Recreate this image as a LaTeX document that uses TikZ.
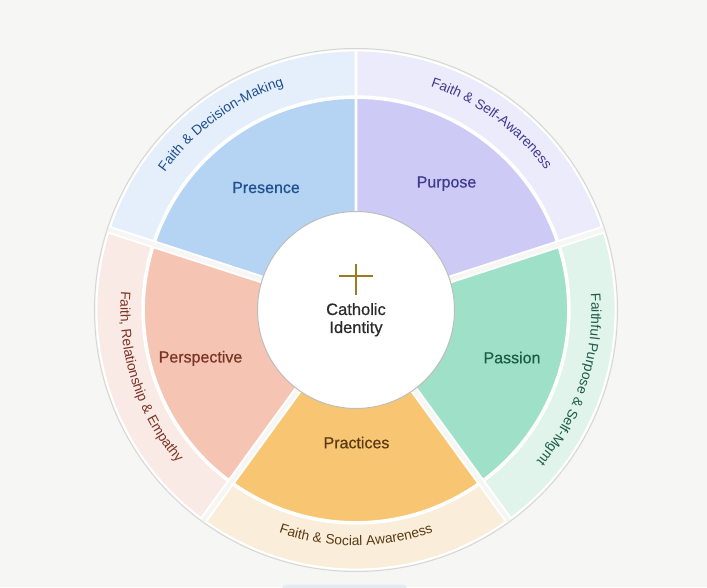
\documentclass[tikz,border=0pt]{standalone}
\usepackage{fontspec}
\setmainfont{Liberation Sans}
\newfontfamily\medfont{Liberation Sans}[FakeBold=0.5]
\usetikzlibrary{decorations.text}
\definecolor{pagebg}{HTML}{F6F6F4}
\definecolor{ringgray}{HTML}{D6D6D4}
\definecolor{coregray}{HTML}{BDBDBD}
\definecolor{presI}{HTML}{B5D3F2}
\definecolor{presO}{HTML}{E5EFFB}
\definecolor{presT}{HTML}{1E4F8F}
\definecolor{purpI}{HTML}{CDCBF5}
\definecolor{purpO}{HTML}{ECEBFC}
\definecolor{purpT}{HTML}{3F3A8F}
\definecolor{passI}{HTML}{9FE0C8}
\definecolor{passO}{HTML}{E0F4EC}
\definecolor{passT}{HTML}{1D5B48}
\definecolor{pracI}{HTML}{F8C672}
\definecolor{pracO}{HTML}{FAEDDA}
\definecolor{pracT}{HTML}{5A3A12}
\definecolor{persI}{HTML}{F5C4B3}
\definecolor{persO}{HTML}{FAEAE6}
\definecolor{persT}{HTML}{7A3424}
\definecolor{crossc}{HTML}{9A7B1F}
\definecolor{coretext}{HTML}{2A2A2A}
\definecolor{sliverc}{HTML}{E6EAF2}
\newcommand\outerfont{\fontsize{13.8}{16}\selectfont}
\newcommand\wheelseg[7]{%
  \pgfmathsetmacro\wsSA{#1+asin(#3/#5)}%
  \pgfmathsetmacro\wsSB{#1+asin(#3/#6)}%
  \pgfmathsetmacro\wsEB{#2-asin(#4/#6)}%
  \pgfmathsetmacro\wsEA{#2-asin(#4/#5)}%
  \path[#7] (\wsSA:#5) -- (\wsSB:#6) arc[start angle=\wsSB, end angle=\wsEB, radius=#6]
    -- (\wsEA:#5) arc[start angle=\wsEA, end angle=\wsSA, radius=#5] -- cycle;%
}
\tikzset{
  segpiece/.style={draw=white, line width=1.8pt},
  seglabel/.style={anchor=base, inner sep=0pt, font=\medfont\fontsize{16}{19}\selectfont},
  corelabel/.style={anchor=base, inner sep=0pt, text=coretext, font=\medfont\fontsize{16.5}{19}\selectfont},
  arctext/.style 2 args={decorate, decoration={text along path, text align=center, text color=#1, text={|\outerfont|#2}}},
  crossbar/.style={draw=crossc, line width=2pt},
}
\begin{document}
\begin{tikzpicture}[x=1pt,y=1pt]
\useasboundingbox (0,0) rectangle (707,587);
\clip (0,0) rectangle (707,587);
\fill[pagebg] (0,0) rectangle (707,587);
\fill[sliverc, rounded corners=4pt] (282,-10) rectangle (407,2.5);
\draw[ringgray, line width=1pt] (356,277) circle[radius=261.5];
\begin{scope}[shift={(356,277)}]
  % inner wedges
  \wheelseg{18}{90}{3}{0.5}{60}{212}{segpiece, fill=purpI}
  \wheelseg{90}{162}{0.5}{3}{60}{212}{segpiece, fill=presI}
  \wheelseg{162}{234}{3}{3}{60}{212}{segpiece, fill=persI}
  \wheelseg{234}{306}{3}{3}{60}{212}{segpiece, fill=pracI}
  \wheelseg{306}{378}{3}{3}{60}{212}{segpiece, fill=passI}
  % outer ring
  \wheelseg{18}{90}{3}{0.5}{213.8}{259.5}{segpiece, fill=purpO}
  \wheelseg{90}{162}{0.5}{3}{213.8}{259.5}{segpiece, fill=presO}
  \wheelseg{162}{234}{3}{3}{213.8}{259.5}{segpiece, fill=persO}
  \wheelseg{234}{306}{3}{3}{213.8}{259.5}{segpiece, fill=pracO}
  \wheelseg{306}{378}{3}{3}{213.8}{259.5}{segpiece, fill=passO}
  % curved outer texts
  \path[arctext={presT}{Faith {\&} Decision-Making}] (156:235.5) arc[start angle=156, end angle=96, radius=235.5];
  \path[arctext={purpT}{Faith {\&} Self-Awareness}] (84:235.5) arc[start angle=84, end angle=24, radius=235.5];
  \path[arctext={passT}{Faithful Purpose {\&} Self-Mgmt}] (12:235.5) arc[start angle=12, end angle=-48, radius=235.5];
  \path[arctext={pracT}{Faith {\&} Social Awareness}] (240:235.5) arc[start angle=240, end angle=300, radius=235.5];
  \path[arctext={persT}{Faith, Relationship {\&} Empathy}] (168:235.5) arc[start angle=168, end angle=228, radius=235.5];
\end{scope}
% centre
\node[circle, fill=white, draw=coregray, line width=1pt, minimum size=197pt, inner sep=0pt] (core) at (356,277) {};
\coordinate (crossTop) at (356,323);
\coordinate (crossBot) at (356,292);
\coordinate (crossL) at (339,311);
\coordinate (crossR) at (373,311);
\draw[crossbar] (crossTop) -- (crossBot);
\draw[crossbar] (crossL) -- (crossR);
\node[corelabel] (cath) at (356,272) {Catholic};
\node[corelabel] (ident) at (356,254) {Identity};
% inner labels
\node[seglabel, text=presT] (presence) at (266,394) {Presence};
\node[seglabel, text=purpT] (purpose) at (446.5,399.5) {Purpose};
\node[seglabel, text=persT] (perspective) at (200.5,224.5) {Perspective};
\node[seglabel, text=passT] (passion) at (512,223.7) {Passion};
\node[seglabel, text=pracT] (practices) at (356.5,138.7) {Practices};
\end{tikzpicture}
\end{document}
